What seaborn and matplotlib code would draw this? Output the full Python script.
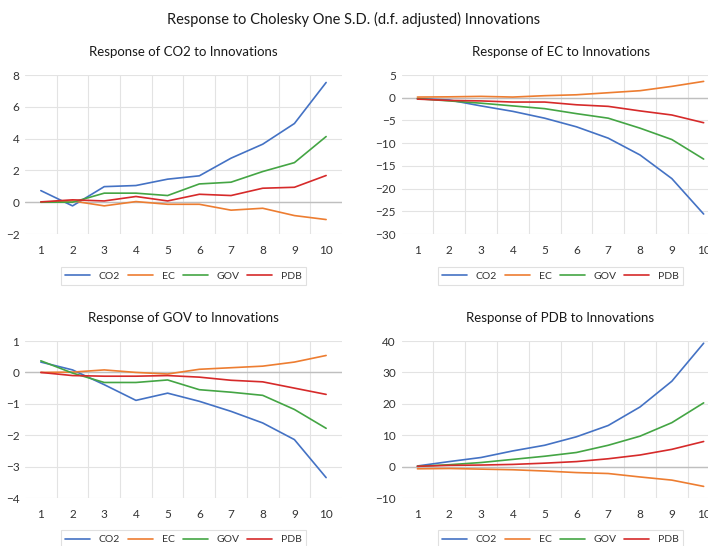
import matplotlib
matplotlib.use("Agg")
import matplotlib.pyplot as plt
import pandas as pd
import numpy as np
import seaborn as sns

# períodos (horizonte)
periodos = list(range(1, 11))
variaveis = ["CO2", "EC", "GOV", "PDB"]

# Resposta de CO2
co2_co2 = [0.73, -0.23, 0.98, 1.05, 1.45, 1.66, 2.77, 3.65, 4.95, 7.53]
co2_ec = [0.0, 0.08, -0.23, 0.04, -0.13, -0.13, -0.50, -0.38, -0.84, -1.09]
co2_gov = [0.0, 0.0, 0.57, 0.57, 0.42, 1.15, 1.26, 1.93, 2.49, 4.13]
co2_pdb = [0.02, 0.15, 0.08, 0.36, 0.08, 0.50, 0.42, 0.88, 0.94, 1.68]

# Resposta de EC
ec_co2 = [-0.2, -0.5, -1.8, -3.0, -4.5, -6.4, -8.9, -12.6, -17.8, -25.6]
ec_ec = [0.15, 0.2, 0.3, 0.15, 0.45, 0.65, 1.1, 1.55, 2.5, 3.6]
ec_gov = [-0.2, -0.7, -1.2, -1.8, -2.4, -3.5, -4.5, -6.7, -9.2, -13.5]
ec_pdb = [-0.3, -0.6, -0.7, -0.95, -0.95, -1.55, -1.9, -2.9, -3.8, -5.5]

# Resposta de GOV
gov_co2 = [0.33, 0.08, -0.39, -0.89, -0.66, -0.92, -1.24, -1.61, -2.14, -3.35]
gov_ec = [0.0, 0.01, 0.08, 0.0, -0.05, 0.1, 0.15, 0.2, 0.33, 0.54]
gov_gov = [0.37, -0.02, -0.32, -0.32, -0.24, -0.55, -0.63, -0.73, -1.18, -1.78]
gov_pdb = [0.0, -0.1, -0.12, -0.12, -0.1, -0.15, -0.25, -0.3, -0.5, -0.7]

# Resposta de PDB
pdb_co2 = [0.2, 1.6, 2.9, 5.0, 6.8, 9.5, 13.1, 19.0, 27.2, 39.3]
pdb_ec = [-0.7, -0.6, -0.8, -1.0, -1.4, -1.9, -2.2, -3.3, -4.3, -6.3]
pdb_gov = [0.1, 0.6, 1.3, 2.3, 3.3, 4.5, 6.8, 9.7, 14.0, 20.3]
pdb_pdb = [0.1, 0.4, 0.5, 0.7, 1.1, 1.6, 2.5, 3.7, 5.5, 8.0]

paineis = [
    ("Response of CO2 to Innovations", [co2_co2, co2_ec, co2_gov, co2_pdb], np.arange(-2, 9, 2)),
    ("Response of EC to Innovations", [ec_co2, ec_ec, ec_gov, ec_pdb], np.arange(-30, 6, 5)),
    ("Response of GOV to Innovations", [gov_co2, gov_ec, gov_gov, gov_pdb], np.arange(-4, 2, 1)),
    ("Response of PDB to Innovations", [pdb_co2, pdb_ec, pdb_gov, pdb_pdb], np.arange(-10, 41, 10)),
]

cores = ["#4472C4", "#ED7D31", "#44A544", "#D62A2A"]

sns.set_theme(style="white")
plt.rcParams['font.family'] = ['Lato', 'DejaVu Sans']

fig = plt.figure(figsize=(7.08, 5.46), dpi=100)

# posições dos eixos (frações da figura)
posicoes = [
    [0.0353, 0.5714, 0.4477, 0.2912],
    [0.5671, 0.5714, 0.4492, 0.2912],
    [0.0353, 0.0879, 0.4477, 0.2875],
    [0.5671, 0.0879, 0.4492, 0.2875],
]

for (titulo, series, yticks), pos in zip(paineis, posicoes):
    ax = fig.add_axes(pos)
    df = pd.DataFrame({
        "Periodo": periodos * 4,
        "Valor": sum(series, []),
        "Variavel": np.repeat(variaveis, len(periodos)),
    })
    ax.axhline(0, color="#BFBFBF", lw=1.0, zorder=1)
    for yt in yticks:
        ax.axhline(yt, color="#E3E3E3", lw=0.8, zorder=0)
    for xg in np.arange(1.5, 10, 1):
        ax.axvline(xg, color="#E3E3E3", lw=0.8, zorder=0)
    sns.lineplot(data=df, x="Periodo", y="Valor", hue="Variavel", palette=cores,
                 lw=1.2, ax=ax, zorder=3)
    ax.set_xlim(0.5, 10.5)
    ax.set_ylim(yticks[0], yticks[-1])
    ax.set_xticks(periodos)
    ax.set_yticks(yticks)
    ax.tick_params(axis="both", length=0, labelsize=8.5, colors="#333333")
    ax.tick_params(axis="x", pad=8)
    ax.tick_params(axis="y", pad=4)
    for s in ax.spines.values():
        s.set_visible(False)
    ax.grid(False)
    ax.set_xlabel("")
    ax.set_ylabel("")
    ax.set_title(titulo, fontsize=9.5, color="#1a1a1a", pad=14)
    leg = ax.legend(loc="center", bbox_to_anchor=(0.5, -0.265), ncol=4, fontsize=7.5,
                    frameon=True, fancybox=False, edgecolor="#D9D9D9",
                    handlelength=2.4, columnspacing=0.8, handletextpad=0.8,
                    borderpad=0.45)
    leg.get_frame().set_linewidth(0.8)
    for t in leg.get_texts():
        t.set_color("#333333")

fig.text(0.5, 0.965, "Response to Cholesky One S.D. (d.f. adjusted) Innovations",
         ha="center", va="center", fontsize=10.5, color="#1a1a1a")

fig.savefig("out.png", dpi=100)
